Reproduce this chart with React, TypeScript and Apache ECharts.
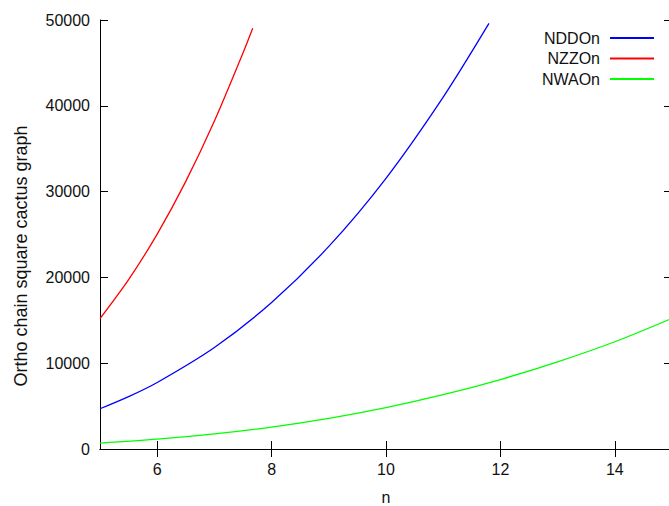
import React, { useEffect, useRef } from "react";
import * as echarts from "echarts";

const xTicks = [6, 8, 10, 12, 14];
const yTicks = [0, 10000, 20000, 30000, 40000, 50000];

const nddoX = [5, 5.5, 6, 7, 8, 9, 10, 11, 11.8];
const nddoY = [4690, 6100, 7750, 11830, 17080, 23610, 31550, 41010, 49600];

const nzzoX = [5, 5.5, 6, 6.5, 7, 7.5, 7.67];
const nzzoY = [15200, 19740, 25050, 31190, 38220, 46160, 49040];

const nwaoX = [5, 6, 7, 8, 9, 10, 11, 12, 13, 14, 15];
const nwaoY = [680, 1140, 1760, 2560, 3580, 4830, 6330, 8100, 10160, 12500, 15230];

const seriesNames = ["NDDOn", "NZZOn", "NWAOn"];
const seriesColors = ["#0000ff", "#ff0000", "#00ff00"];
const yTitle = "Ortho chain square cactus graph";
const xTitle = "n";

const FONT = "'Liberation Sans', Arial, sans-serif";

function pairs(xs: number[], ys: number[]) {
  return xs.map((x, i) => [x, ys[i]]);
}

export default function App() {
  const ref = useRef<HTMLDivElement>(null);
  useEffect(() => {
    if (!ref.current) return;
    const chart = echarts.init(ref.current, null, { renderer: "svg" });
    const axisLine = { show: true, lineStyle: { color: "#000", width: 1 } };
    const tick = { show: true, inside: true, length: 8, lineStyle: { color: "#000", width: 1 } };
    const datasets = [pairs(nddoX, nddoY), pairs(nzzoX, nzzoY), pairs(nwaoX, nwaoY)];
    chart.setOption({
      animation: false,
      backgroundColor: "#fff",
      textStyle: { fontFamily: FONT },
      grid: {
        left: 100,
        top: 20,
        width: 572,
        height: 429,
        containLabel: false,
        outerBoundsMode: "none",
      },
      graphic: [
        {
          type: "text",
          x: 21,
          y: 256,
          rotation: Math.PI / 2,
          style: {
            text: yTitle,
            fontFamily: FONT,
            fontSize: 18,
            fill: "#111",
            align: "center",
            verticalAlign: "middle",
          },
        },
      ],
      legend: {
        orient: "vertical",
        align: "right",
        right: 15,
        top: 30,
        padding: 0,
        icon: "rect",
        itemWidth: 44,
        itemHeight: 2,
        itemGap: 4.5,
        textStyle: { fontFamily: FONT, fontSize: 16, color: "#111", padding: [0, 5, 0, 0] },
        data: seriesNames,
      },
      xAxis: [
        {
          type: "value",
          position: "bottom",
          min: 5,
          max: 15,
          name: xTitle,
          nameLocation: "middle",
          nameGap: 40,
          nameTextStyle: { fontFamily: FONT, fontSize: 16, color: "#111" },
          axisLine,
          axisTick: { ...tick, customValues: xTicks },
          axisLabel: { customValues: xTicks, fontFamily: FONT, fontSize: 16, color: "#111", margin: 12 },
          splitLine: { show: false },
        },
        {
          type: "value",
          position: "top",
          min: 5,
          max: 15,
          axisLine,
          axisTick: { ...tick, customValues: xTicks },
          axisLabel: { show: false },
          splitLine: { show: false },
        },
      ],
      yAxis: [
        {
          type: "value",
          position: "left",
          min: 0,
          max: 50000,
          interval: 10000,
          axisLine,
          axisTick: { ...tick, customValues: yTicks },
          axisLabel: {
            fontFamily: FONT,
            fontSize: 16,
            color: "#111",
            margin: 10,
            formatter: (v: number) => String(v),
          },
          splitLine: { show: false },
        },
        {
          type: "value",
          position: "right",
          min: 0,
          max: 50000,
          interval: 10000,
          axisLine,
          axisTick: tick,
          axisLabel: { show: false },
          splitLine: { show: false },
        },
      ],
      series: seriesNames.map((name, i) => ({
        name,
        type: "line",
        xAxisIndex: 0,
        yAxisIndex: 0,
        data: datasets[i],
        smooth: 0.3,
        symbol: "none",
        showSymbol: false,
        lineStyle: { color: seriesColors[i], width: 1.3 },
        itemStyle: { color: seriesColors[i] },
      })),
    });
    return () => chart.dispose();
  }, []);
  return (
    <div
      ref={ref}
      style={{ position: "absolute", left: 0, top: 0, width: 669, height: 506 }}
    />
  );
}
